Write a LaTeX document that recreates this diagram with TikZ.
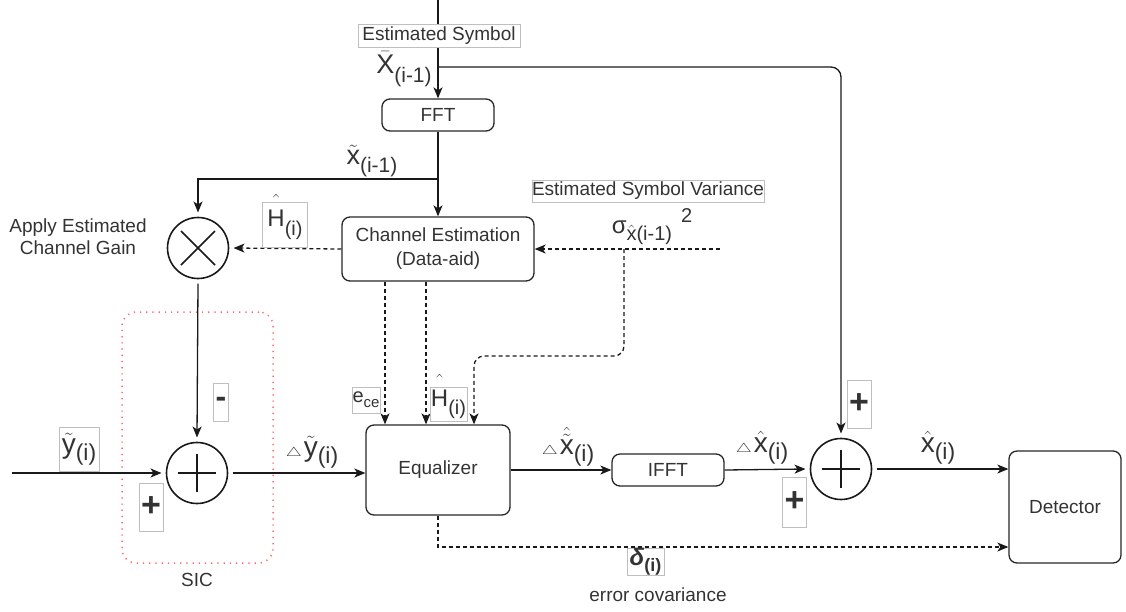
\documentclass[tikz,border=0pt]{standalone}
\usepackage{graphicx}
\usepackage{fontspec}
\setmainfont{Liberation Sans}
\usetikzlibrary{arrows.meta,calc}
\newcommand\hb[1]{\hbox{#1}}
\newcommand\fs[2]{\fontsize{#1}{#2}\selectfont}
\newcommand\dlt{\resizebox{16pt}{9pt}{$\triangle$}\hspace{2pt}}
\tikzset{
  ln/.style={draw=black!90, line width=1.3pt},
  arr/.style={ln, -{Stealth[length=11pt,width=9pt,inset=3pt]}},
  darr/.style={arr, dash pattern=on 4pt off 3pt},
  blk/.style={draw=black!85, line width=1.3pt, rounded corners=8pt, font=\fs{19}{24}, text=black!80, align=center, inner sep=0pt},
  lbox/.style={draw=black!25, fill=white, line width=0.6pt, inner sep=0pt, text=black!80},
  txt/.style={text=black!80, inner sep=0pt},
  op/.style={circle, draw=black!90, line width=1.6pt, minimum size=61pt, inner sep=0pt, outer sep=5pt},
  sym/.style={line width=1.5pt, draw=black!90},
}
\begin{document}
\begin{tikzpicture}[x=1pt,y=-1pt]
\useasboundingbox (0,0) rectangle (1126,611);

% blocks
\node[blk, minimum width=112pt, minimum height=32pt] (fft) at (438,115) {FFT};
\node[blk, minimum width=192pt, minimum height=64pt] (ce) at (438,249) {Channel Estimation\\(Data-aid)};
\node[blk, minimum width=144pt, minimum height=90pt] (eq) at (438,470) {Equalizer};
\node[blk, minimum width=112pt, minimum height=32pt] (ifft) at (668,470) {IFFT};
\node[blk, minimum width=112pt, minimum height=112pt] (det) at (1065,507) {Detector};

% operators
\node[op] (mul) at (198,248) {};
\draw[sym] ([shift={(-17,-17)}]mul.center) -- ([shift={(17,17)}]mul.center);
\draw[sym] ([shift={(-17,17)}]mul.center) -- ([shift={(17,-17)}]mul.center);
\node[op] (add1) at (197,473) {};
\draw[sym] ([xshift=-19pt]add1.center) -- ([xshift=19pt]add1.center);
\draw[sym] ([yshift=-19pt]add1.center) -- ([yshift=19pt]add1.center);
\node[op] (add2) at (841,469) {};
\draw[sym] ([xshift=-19pt]add2.center) -- ([xshift=19pt]add2.center);
\draw[sym] ([yshift=-19pt]add2.center) -- ([yshift=19pt]add2.center);

% SIC group
\node[draw=red!60, line width=1.5pt, dash pattern=on 1.2pt off 5pt, rounded corners=14pt,
      minimum width=151pt, minimum height=251pt, inner sep=0pt] (sic) at (197.5,437.5) {};
\node[txt, font=\fs{19}{22}] (siclbl) at (197,580) {SIC};

% connectors
\coordinate (top) at (438,0);
\draw[arr] (top) -- (fft.north);
\coordinate (j1) at (438,67);
\draw[arr, rounded corners=10pt] (j1) -| (add2.north);
\draw[arr] (fft.south) -- (ce.north);
\coordinate (j2) at (438,179);
\draw[arr] (j2) -| (mul.north);
\draw[darr] (ce.west) -- (mul.east);
\coordinate (vs) at (720,249);
\draw[darr] (vs) -- (ce.east);
\coordinate (j3) at (624,249);
\coordinate (k) at (474,356);
\draw[darr, rounded corners=10pt] (j3) |- (k) -- (k |- eq.north);
\draw[darr] ([xshift=-53pt]ce.south) -- ([xshift=-53pt]ce.south |- eq.north);
\draw[darr] ([xshift=-12pt]ce.south) -- ([xshift=-12pt]ce.south |- eq.north);
\draw[arr] (mul.south) -- (add1.north);
\coordinate (in) at (12,473);
\draw[arr] (in) -- (add1.west);
\draw[arr] (add1.east) -- (add1.east -| eq.west);
\draw[arr] (eq.east |- ifft.west) -- (ifft.west);
\draw[arr] (ifft.east) -- (add2.west);
\draw[arr] (add2.east) -- (add2.east -| det.west);
\coordinate (c547) at (438,547);
\draw[darr] (eq.south) |- (c547 -| det.west);

% labels
\node[lbox, minimum width=162pt, minimum height=23pt, font=\fs{19}{22}] (lest) at (439,35.5) {Estimated Symbol};
\node[txt] (lxbar) at (404,69) {\fs{27}{30}$\bar{\hb{X}}$\raisebox{-9pt}{\fs{21}{24}(i-1)}};
\node[txt] (lxtil) at (372,161) {\fs{27}{30}$\tilde{\hb{x}}$\raisebox{-8pt}{\fs{21}{24}(i-1)}};
\node[txt, align=center, font=\fs{19}{22}] (lapply) at (78,237) {Apply Estimated\\Channel Gain};
\node[lbox, minimum width=45pt, minimum height=45pt] (lh1) at (285,225)
  {\fs{24}{28}\vphantom{H}\smash{$\hat{\hb{H\rule{0pt}{26pt}}}$}\raisebox{-9pt}{\fs{20}{24}(i)}};
\node[lbox, minimum width=190pt, minimum height=22pt, font=\fs{19}{22}] (lvar) at (648,191) {Estimated Symbol Variance};
\node[txt] (lsig) at (652,227)
  {\fs{24}{28}σ\raisebox{-7pt}{\fs{20}{24}$\hat{\hb{x}}$(i-1)}\hspace{9pt}\raisebox{11pt}{\fs{20}{24}2}};
\node[lbox, minimum width=28pt, minimum height=26pt] (lece) at (366,400)
  {\fs{20}{24}e\raisebox{-5pt}{\fs{15}{18}ce}};
\node[lbox, minimum width=37pt, minimum height=34pt] (lh2) at (448.5,404)
  {\fs{24}{28}\vphantom{H}\smash{$\hat{\hb{H\rule{0pt}{25pt}}}$}\raisebox{-8pt}{\fs{20}{24}(i)}};
\node[lbox, minimum width=40pt, minimum height=44pt] (ly) at (79,449)
  {\fs{28}{30}$\tilde{\hb{y}}$\raisebox{-7pt}{\fs{23}{26}(i)}};
\node[lbox, minimum width=15pt, minimum height=38pt, font=\fs{32}{32}\bfseries] (lminus) at (221,402) {-};
\node[lbox, minimum width=24pt, minimum height=48pt, font=\fs{34}{34}\bfseries] (lplus1) at (151,507) {+};
\node[txt] (ldy) at (312,452)
  {\dlt\fs{28}{30}$\tilde{\hb{y}}$\raisebox{-7pt}{\fs{23}{26}(i)}};
\node[txt] (ldxt) at (568,447)
  {\dlt\fs{28}{30}$\hat{\tilde{\hb{x}}}$\raisebox{-7pt}{\fs{23}{26}(i)}};
\node[txt] (ldx) at (762,448)
  {\dlt\fs{28}{30}$\hat{\hb{x}}$\raisebox{-7pt}{\fs{23}{26}(i)}};
\node[lbox, minimum width=24pt, minimum height=50pt, font=\fs{34}{34}\bfseries] (lplus2) at (794.5,502) {+};
\node[lbox, minimum width=24pt, minimum height=48pt, font=\fs{34}{34}\bfseries] (lplus3) at (859,404) {+};
\node[txt] (lxh) at (938,448)
  {\fs{28}{30}$\hat{\hb{x}}$\raisebox{-7pt}{\fs{23}{26}(i)}};
\node[lbox, minimum width=37pt, minimum height=27pt] (ldelta) at (645.5,561.5)
  {\fs{24}{28}\textbf{\textit{δ}}\raisebox{-6pt}{\fs{18}{22}\bfseries(i)}};
\node[txt, font=\fs{19}{22}] (lerr) at (658,595) {error covariance};
\end{tikzpicture}
\end{document}
